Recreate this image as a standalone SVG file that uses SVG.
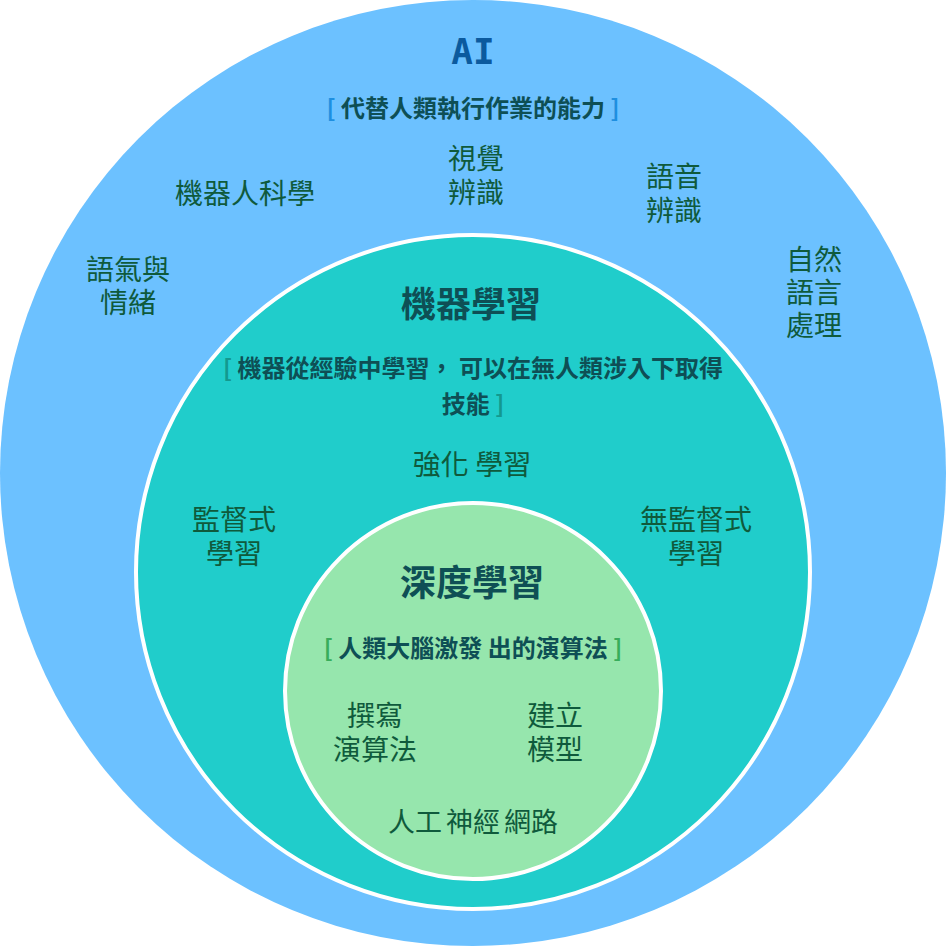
<svg xmlns="http://www.w3.org/2000/svg" width="946" height="946" viewBox="0 0 946 946">
<style>
text{font-family:"Noto Sans CJK TC","Noto Sans CJK SC",sans-serif;text-anchor:middle;dominant-baseline:central}
.lbl{font-size:28px;fill:#0f5a3c}
.title{font-size:35px;font-weight:bold;fill:#0e4f55}
.sub{font-size:24px;font-weight:bold;fill:#0e4f55}
.ai{font-size:36px;font-weight:bold;fill:#0b5a9e;font-family:"DejaVu Sans Mono","Noto Sans",sans-serif}
.bb{fill:#1e8fe0}
.bt{fill:#13998f}
.bg{fill:#38ad5c}
</style>
<g id="ai">
<circle cx="473" cy="473" r="473" fill="#6cc1ff"/>
<text class="ai" x="473" y="51">AI</text>
<text class="sub" x="473" y="106"><tspan class="bb">[</tspan> 代替人類執行作業的能力 <tspan class="bb">]</tspan></text>
<text class="lbl" x="476" y="157">視覺<tspan x="476" dy="34">辨識</tspan></text>
<text class="lbl" x="245" y="192">機器人科學</text>
<text class="lbl" x="674" y="175">語音<tspan x="674" dy="34">辨識</tspan></text>
<text class="lbl" x="128" y="268">語氣與<tspan x="128" dy="33">情緒</tspan></text>
<text class="lbl" x="814" y="258">自然<tspan x="814" dy="33">語言</tspan><tspan x="814" dy="33">處理</tspan></text>
</g>
<g id="ml">
<circle cx="473" cy="572" r="337" fill="#20cdcb" stroke="#ffffff" stroke-width="4"/>
<text class="title" x="471" y="301">機器學習</text>
<text class="sub" x="473" y="366"><tspan class="bt">[</tspan> 機器從經驗中學習， 可以在無人類涉入下取得<tspan x="473" dy="36" class="sub">技能 </tspan><tspan class="bt">]</tspan></text>
<text class="lbl" x="472" y="463">強化 學習</text>
<text class="lbl" x="234" y="518">監督式<tspan x="234" dy="34">學習</tspan></text>
<text class="lbl" x="696" y="518">無監督式<tspan x="696" dy="34">學習</tspan></text>
</g>
<g id="dl">
<circle cx="473" cy="691" r="188" fill="#96e6ad" stroke="#ffffff" stroke-width="4"/>
<text class="title" x="472" y="580" style="font-size:36px">深度學習</text>
<text class="sub" x="473" y="646"><tspan class="bg">[</tspan> 人類大腦激發 出的演算法 <tspan class="bg">]</tspan></text>
<text class="lbl" x="375" y="714">撰寫<tspan x="375" dy="34">演算法</tspan></text>
<text class="lbl" x="555" y="714">建立<tspan x="555" dy="34">模型</tspan></text>
<text class="lbl" x="473" y="820" style="font-size:27px;word-spacing:-2px">人工 神經 網路</text>
</g>
<g id="connectors"></g>
</svg>
